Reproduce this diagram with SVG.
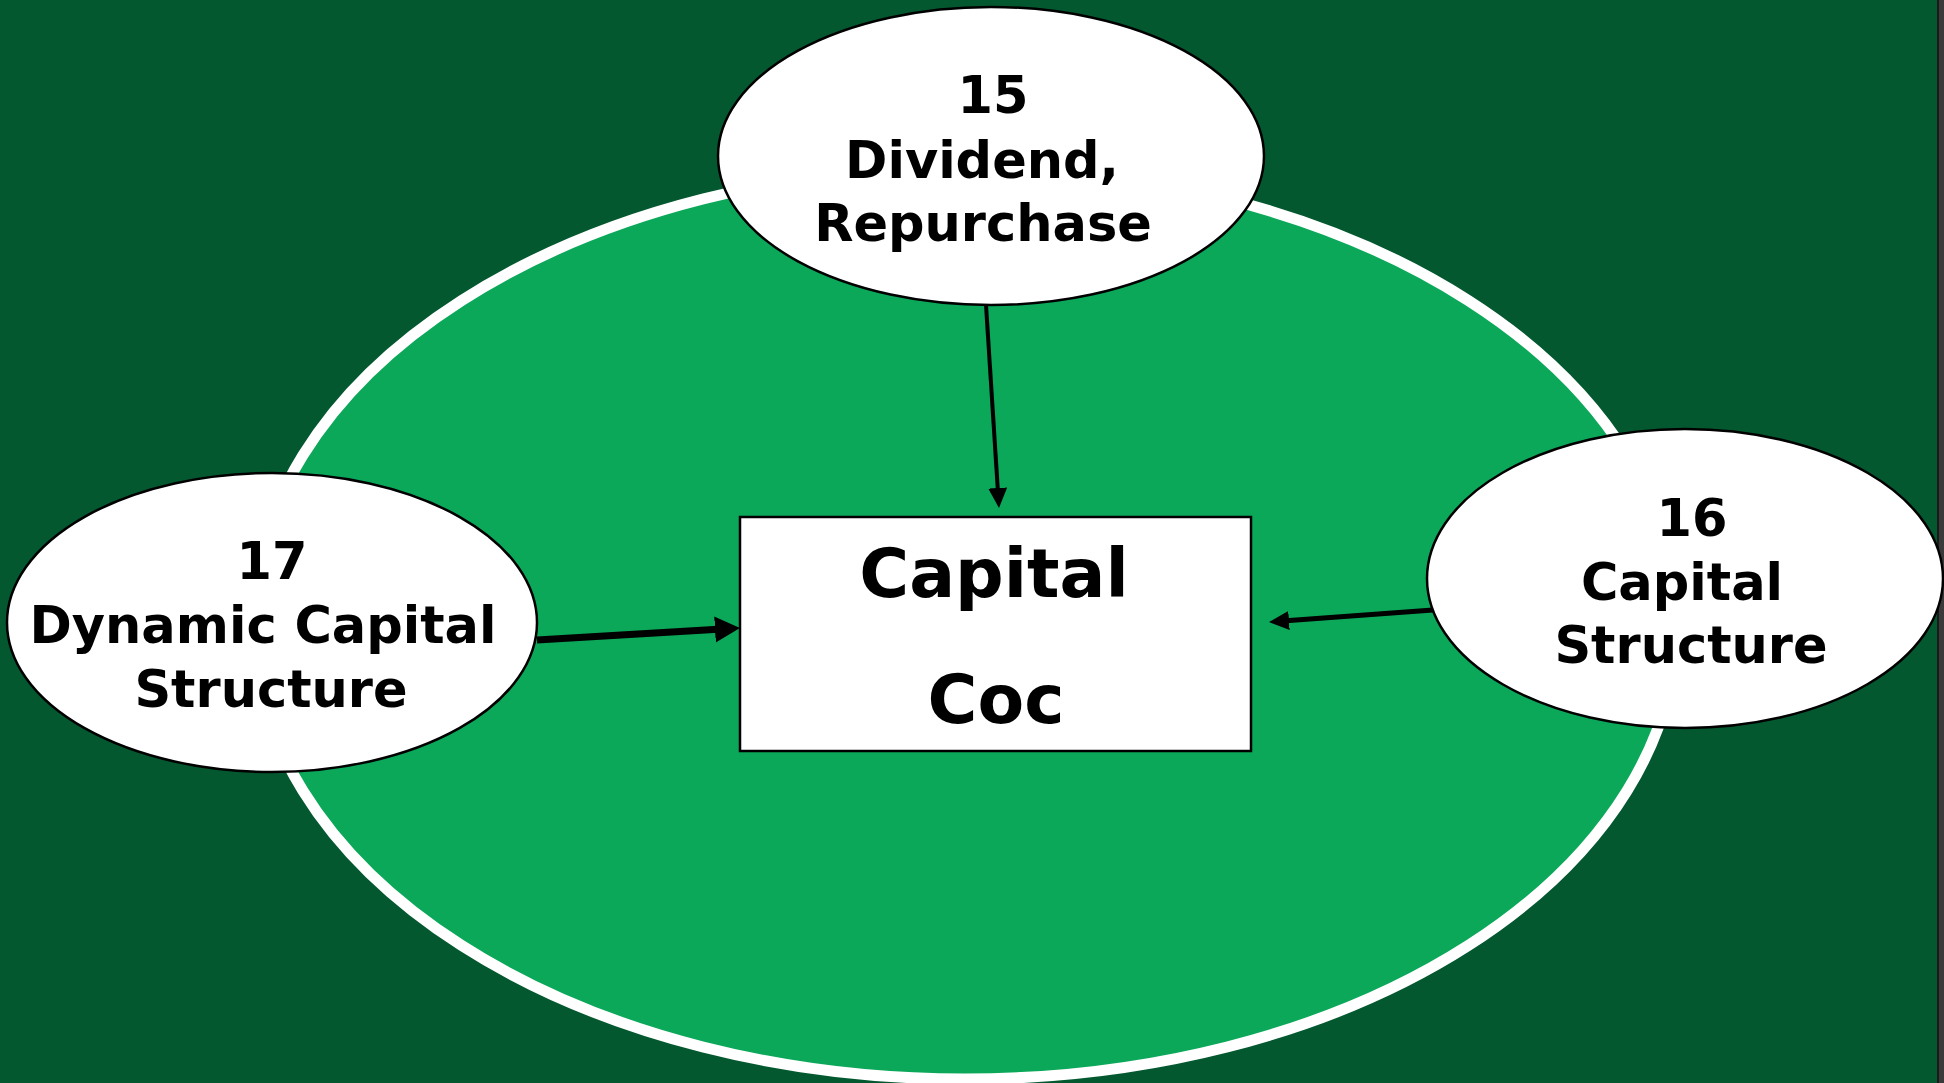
<svg xmlns="http://www.w3.org/2000/svg" width="1944" height="1083" viewBox="0 0 1944 1083">
  <style>
    .node { fill: #ffffff; stroke: #000000; stroke-width: 2.5; }
    .lbl { font-family: "DejaVu Sans", Verdana, sans-serif; font-weight: bold; font-size: 51px; fill: #000000; text-anchor: middle; }
    .big { font-size: 68px; }
    .conn { stroke: #000000; fill: none; }
  </style>
  <defs>
    <marker id="headS" markerUnits="userSpaceOnUse" markerWidth="22" markerHeight="22" refX="3" refY="9.5" orient="auto">
      <path d="M0,0 L20,9.5 L0,19 Z" fill="#000000"/>
    </marker>
    <marker id="headL" markerUnits="userSpaceOnUse" markerWidth="28" markerHeight="28" refX="3" refY="13" orient="auto">
      <path d="M0,0 L25,13 L0,26 Z" fill="#000000"/>
    </marker>
  </defs>

  <rect x="0" y="0" width="1944" height="1083" fill="#04582F"/>
  <rect x="1939" y="0" width="5" height="1083" fill="#3a3a3a"/>
  <line x1="1938" y1="0" x2="1938" y2="1083" stroke="#1a1a1a" stroke-width="2"/>

  <g id="ring">
    <ellipse cx="965" cy="623" rx="712" ry="456" fill="#0BA85A" stroke="#ffffff" stroke-width="11"/>
  </g>

  <g id="connectors">
    <line class="conn" x1="986" y1="305" x2="997.9" y2="491" stroke-width="4" marker-end="url(#headS)"/>
    <line class="conn" x1="537" y1="640" x2="718" y2="629.3" stroke-width="7" marker-end="url(#headL)"/>
    <line class="conn" x1="1433" y1="610" x2="1286" y2="620.8" stroke-width="5" marker-end="url(#headS)"/>
  </g>

  <g id="node-capital">
    <rect x="740" y="517" width="511" height="234" fill="#ffffff" stroke="#000000" stroke-width="2.5"/>
    <text class="lbl big" x="994" y="597">Capital</text>
    <text class="lbl big" x="996" y="723">Coc</text>
  </g>

  <g id="node-15">
    <ellipse class="node" cx="991" cy="156" rx="273" ry="149"/>
    <text class="lbl" x="993" y="113">15</text>
    <text class="lbl" x="982" y="178">Dividend,</text>
    <text class="lbl" x="983" y="241">Repurchase</text>
  </g>

  <g id="node-17">
    <ellipse class="node" cx="272" cy="622.5" rx="265" ry="149.5"/>
    <text class="lbl" x="272" y="579">17</text>
    <text class="lbl" x="263" y="643">Dynamic Capital</text>
    <text class="lbl" x="271" y="707">Structure</text>
  </g>

  <g id="node-16">
    <ellipse class="node" cx="1685" cy="578.5" rx="258" ry="149.5"/>
    <text class="lbl" x="1692" y="536">16</text>
    <text class="lbl" x="1682" y="600">Capital</text>
    <text class="lbl" x="1691" y="663">Structure</text>
  </g>
</svg>
